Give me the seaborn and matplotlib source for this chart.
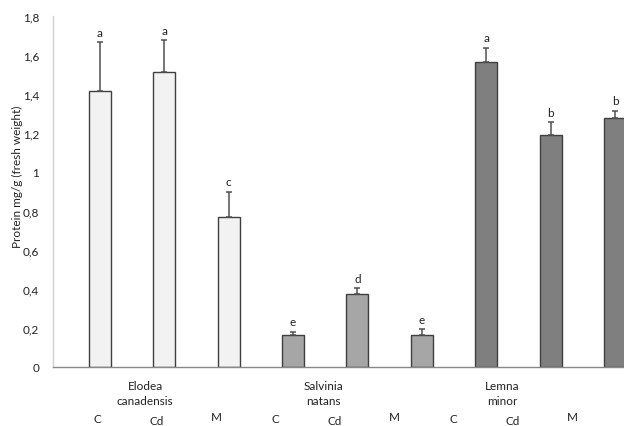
import matplotlib
matplotlib.use("Agg")
import matplotlib.pyplot as plt
import seaborn as sns
import pandas as pd
import numpy as np

species = ["Elodea\ncanadensis", "Salvinia\nnatans", "Lemna\nminor"]
treatments = ["C", "Cd", "M"]
protein = [1.415, 1.515, 0.770, 0.165, 0.376, 0.165, 1.563, 1.190, 1.278]
protein_err = [0.250, 0.160, 0.130, 0.017, 0.030, 0.030, 0.075, 0.065, 0.037]
letters = ["a", "a", "c", "e", "d", "e", "a", "b", "b"]
yticks = [0, 0.2, 0.4, 0.6, 0.8, 1.0, 1.2, 1.4, 1.6, 1.8]
ytick_labels = ["0", "0,2", "0,4", "0,6", "0,8", "1", "1,2", "1,4", "1,6", "1,8"]
species_colors = ["#f2f2f2", "#a6a6a6", "#7f7f7f"]

rows = []
for i, v in enumerate(protein):
    sp = species[i // 3]
    tr = treatments[i % 3]
    rows.append({"group": f"{sp} {tr}", "species": sp, "treatment": tr, "protein": v})
df = pd.DataFrame(rows)

sns.set_theme(style="white")
plt.rcParams["font.family"] = ["Lato", "DejaVu Sans"]

fig = plt.figure(figsize=(6.24, 4.27), dpi=100)
W, H = 624, 427
ax = fig.add_axes([53 / W, 1 - 368 / H, (624 - 53) / W, (368 - 17) / H])

sns.barplot(data=df, x="group", y="protein", hue="species", order=df["group"],
            palette=dict(zip(species, species_colors)), dodge=False, width=0.342,
            errorbar=None, edgecolor="#3f3f3f", linewidth=1.0, legend=False, ax=ax)

xpos = np.arange(len(protein))
ax.errorbar(xpos, protein, yerr=[np.zeros(len(protein)), protein_err], fmt="none",
            ecolor="#505050", elinewidth=1.1, capsize=2.2, capthick=1.1, zorder=3)

for x, v, e, lab in zip(xpos, protein, protein_err, letters):
    ax.annotate(lab, (x, v + e), xytext=(0, 3), textcoords="offset points",
                ha="center", va="bottom", fontsize=8.5, color="#222222")

ax.set_xlim(-0.73, 8.14)
ax.set_ylim(0, 1.8)
ax.set_yticks(yticks)
ax.set_yticklabels(ytick_labels, fontsize=8.5, color="#222222")
ax.tick_params(axis="y", length=0, pad=10)
ax.set_xticks([])
ax.set_xlabel("")
ax.set_ylabel("")

for side in ["top", "right"]:
    ax.spines[side].set_visible(False)
ax.spines["left"].set_color("#d0d0d0")
ax.spines["bottom"].set_color("#888888")
ax.spines["left"].set_linewidth(1.0)
ax.spines["bottom"].set_linewidth(1.0)

trans = ax.get_xaxis_transform()
# species names under each group
for g, sp in enumerate(species):
    ax.text(0.70 + 2.775 * g, -0.037, sp, transform=trans, ha="center", va="top",
            fontsize=8.5, color="#222222", linespacing=1.45)

# treatment labels along the bottom
sub_y = [-0.148, -0.153, -0.142]
for i in range(len(protein)):
    ax.text(-0.036 + 0.922 * i, sub_y[i % 3], treatments[i % 3], transform=trans,
            ha="center", va="center", fontsize=8.5, color="#222222")

fig.text(17 / W, 1 - 177 / H, "Protein mg/g (fresh weight)", rotation=90,
         ha="center", va="center", fontsize=8.5, color="#222222")

fig.savefig("out.png", dpi=100)
